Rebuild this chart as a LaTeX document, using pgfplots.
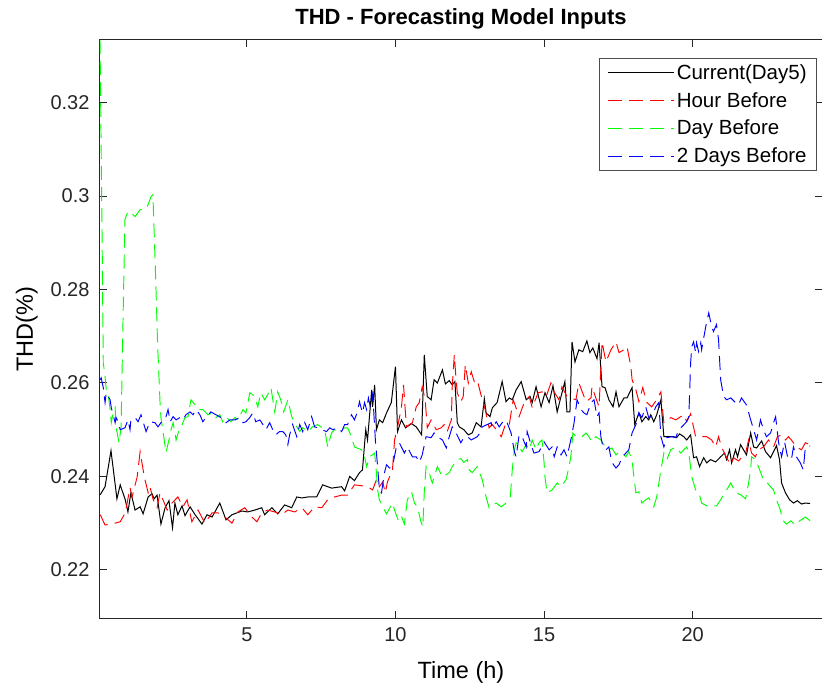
\documentclass[border=0pt]{standalone}
\usepackage{pgfplots}
\pgfplotsset{compat=1.18}
\usepackage{fontspec}
\setmainfont{Liberation Sans}
\begin{document}
\begin{tikzpicture}
\begin{axis}[
  scale only axis, width=722pt, height=578pt,
  xmin=0.06, xmax=24.35, ymin=0.2097, ymax=0.3334,
  axis line style={line width=1pt, color=black!85},
  xtick={5,10,15,20}, xticklabels={5,10,15,20},
  ytick={0.22,0.24,0.26,0.28,0.3,0.32}, yticklabels={0.22,0.24,0.26,0.28,0.3,0.32},
  tick align=inside, major tick length=7pt,
  tick style={line width=1pt, color=black!85},
  ticklabel style={font=\fontsize{20}{24}\selectfont, text=black!85},
  yticklabel style={xshift=-7pt},
  xticklabel style={yshift=-6pt},
  xlabel={Time (h)}, ylabel={THD(\%)},
  label style={font=\fontsize{23.5}{28}\selectfont},
  xlabel style={yshift=-13pt},
  ylabel style={yshift=6pt},
  title={THD - Forecasting Model Inputs},
  title style={font=\bfseries\fontsize{22}{26}\selectfont, yshift=1pt},
  legend style={at={(1,1)}, anchor=north east, xshift=-5pt, yshift=-18pt,
    draw=black!70, line width=0.7pt, font=\fontsize{20.5}{24}\selectfont,
    inner xsep=8pt, inner ysep=4pt, row sep=7.5pt,
    /tikz/every even column/.append style={column sep=3pt}},
  legend cell align=left,
  legend image code/.code={\draw[#1] (0pt,0pt) -- (66pt,0pt);},
]
\addplot[color=black, line width=1pt] coordinates {
(0.07,0.2361)(0.23,0.2378)(0.43,0.2455)(0.63,0.2352)(0.74,0.2382)(0.91,0.235)(1.0,0.2324)(1.1,0.2365)(1.24,0.2328)(1.41,0.2335)(1.51,0.232)(1.68,0.2356)(1.81,0.2363)(1.88,0.2352)(1.98,0.236)(2.11,0.2298)(2.25,0.2333)(2.38,0.2348)(2.5,0.229)(2.58,0.2343)(2.68,0.2318)(2.82,0.2337)(2.92,0.2316)(3.09,0.2335)(3.26,0.2318)(3.49,0.2298)(3.66,0.2318)(3.83,0.2313)(4.09,0.2343)(4.3,0.2307)(4.5,0.2318)(4.83,0.2326)(5.03,0.2324)(5.27,0.2328)(5.5,0.2333)(5.6,0.2318)(5.84,0.2333)(6.04,0.232)(6.27,0.2339)(6.51,0.2333)(6.68,0.2356)(6.85,0.2354)(7.05,0.2356)(7.35,0.2356)(7.55,0.2382)(7.85,0.2375)(8.19,0.2378)(8.29,0.2369)(8.46,0.240)(8.62,0.2391)(8.79,0.2408)(8.89,0.2414)(9.0,0.25)(9.06,0.2478)(9.2,0.2585)(9.23,0.2549)(9.3,0.2596)(9.36,0.25)(9.46,0.2521)(9.57,0.2515)(9.7,0.2536)(9.86,0.2558)(10.0,0.2635)(10.07,0.2496)(10.2,0.2521)(10.34,0.2504)(10.54,0.2513)(10.7,0.2506)(10.88,0.2489)(10.97,0.266)(11.07,0.2571)(11.2,0.2564)(11.3,0.2607)(11.41,0.26)(11.58,0.2628)(11.68,0.2598)(11.81,0.2605)(11.91,0.2596)(12.0,0.2603)(12.08,0.2515)(12.15,0.2506)(12.3,0.25)(12.45,0.2489)(12.58,0.2493)(12.72,0.2515)(12.88,0.2506)(12.99,0.2566)(13.05,0.2536)(13.18,0.2528)(13.26,0.2547)(13.42,0.2558)(13.59,0.2603)(13.72,0.256)(13.83,0.2568)(13.93,0.2564)(14.06,0.2585)(14.23,0.2603)(14.4,0.2564)(14.53,0.2571)(14.6,0.2558)(14.73,0.2592)(14.9,0.2549)(15.03,0.2579)(15.17,0.2558)(15.3,0.2594)(15.44,0.2538)(15.57,0.2571)(15.7,0.2603)(15.77,0.2538)(15.87,0.2538)(15.94,0.2688)(16.04,0.2645)(16.17,0.2671)(16.3,0.2667)(16.44,0.269)(16.54,0.2665)(16.64,0.2675)(16.78,0.2652)(16.85,0.2686)(16.95,0.2592)(17.05,0.259)(17.18,0.2564)(17.32,0.2549)(17.42,0.2581)(17.52,0.2549)(17.69,0.2568)(17.79,0.2568)(17.92,0.2585)(17.96,0.259)(18.05,0.2511)(18.19,0.2536)(18.29,0.2517)(18.42,0.2528)(18.52,0.2521)(18.59,0.2532)(18.69,0.2517)(18.79,0.2532)(18.93,0.2564)(19.03,0.2485)(19.2,0.2485)(19.36,0.2485)(19.46,0.2483)(19.56,0.2491)(19.7,0.2485)(19.8,0.2478)(19.93,0.2489)(20.03,0.244)(20.13,0.2442)(20.23,0.2421)(20.37,0.244)(20.47,0.2429)(20.6,0.2436)(20.77,0.2431)(20.94,0.2442)(21.07,0.245)(21.14,0.2436)(21.24,0.2457)(21.31,0.2429)(21.44,0.2457)(21.51,0.2442)(21.61,0.2468)(21.71,0.2457)(21.81,0.2446)(21.95,0.2493)(22.05,0.2463)(22.15,0.2461)(22.32,0.2476)(22.45,0.2453)(22.62,0.244)(22.75,0.2457)(22.82,0.2466)(22.92,0.2436)(22.99,0.2386)(23.12,0.2365)(23.26,0.235)(23.39,0.2343)(23.52,0.2348)(23.66,0.2341)(23.79,0.2343)(23.95,0.2342)
};
\addlegendentry{Current(Day5)}
\addplot[color=red, line width=0.95pt, dash pattern=on 14pt off 7pt] coordinates {
(0.07,0.2318)(0.23,0.2296)(0.4,0.2298)(0.57,0.2300)(0.74,0.2303)(0.91,0.2322)(1.07,0.2376)(1.14,0.2356)(1.31,0.2399)(1.41,0.2453)(1.55,0.2399)(1.68,0.2365)(1.74,0.2378)(1.85,0.235)(1.98,0.2333)(2.08,0.2365)(2.18,0.235)(2.32,0.2328)(2.48,0.2343)(2.68,0.2356)(2.85,0.2335)(2.99,0.235)(3.15,0.2303)(3.36,0.2328)(3.59,0.23)(3.83,0.2322)(4.03,0.2322)(4.26,0.2313)(4.5,0.23)(4.7,0.2324)(4.93,0.2333)(5.17,0.2313)(5.34,0.2303)(5.5,0.2322)(5.7,0.2328)(5.94,0.2324)(6.17,0.2318)(6.38,0.2328)(6.61,0.2324)(6.85,0.2333)(7.05,0.2318)(7.28,0.2335)(7.52,0.2333)(7.72,0.235)(7.95,0.2356)(8.19,0.236)(8.39,0.236)(8.62,0.2382)(8.86,0.238)(9.06,0.2378)(9.23,0.2371)(9.36,0.2393)(9.46,0.2378)(9.57,0.2388)(9.66,0.2365)(9.73,0.2388)(9.9,0.2414)(9.97,0.2478)(10.07,0.2506)(10.2,0.2547)(10.27,0.2596)(10.37,0.2506)(10.47,0.2511)(10.57,0.2515)(10.7,0.2549)(10.8,0.2558)(10.9,0.2592)(11.0,0.2564)(11.07,0.2504)(11.2,0.2521)(11.37,0.25)(11.54,0.2504)(11.64,0.2511)(11.74,0.2496)(11.88,0.2521)(11.91,0.2592)(11.98,0.266)(12.04,0.2607)(12.08,0.2579)(12.2,0.256)(12.28,0.2571)(12.35,0.2639)(12.45,0.26)(12.55,0.2624)(12.65,0.2603)(12.75,0.2607)(12.92,0.2564)(13.02,0.2543)(13.15,0.2504)(13.26,0.2511)(13.39,0.25)(13.56,0.2485)(13.72,0.2515)(13.83,0.2511)(13.96,0.2564)(14.16,0.2528)(14.33,0.2558)(14.5,0.2571)(14.6,0.2547)(14.8,0.2579)(14.93,0.2581)(15.07,0.2571)(15.23,0.26)(15.34,0.2581)(15.5,0.2564)(15.6,0.2592)(15.77,0.2571)(16.07,0.2564)(16.17,0.26)(16.41,0.256)(16.58,0.2568)(16.61,0.2592)(16.74,0.2568)(16.85,0.2549)(16.95,0.2688)(17.08,0.2645)(17.25,0.2671)(17.42,0.2688)(17.52,0.2665)(17.69,0.2671)(17.79,0.2678)(17.92,0.2635)(17.96,0.2607)(18.09,0.2585)(18.19,0.256)(18.32,0.259)(18.46,0.2558)(18.62,0.2549)(18.79,0.2564)(18.93,0.2581)(19.03,0.2515)(19.13,0.2517)(19.26,0.2526)(19.43,0.2521)(19.6,0.2528)(19.7,0.2532)(19.8,0.2517)(19.93,0.2534)(20.1,0.2485)(20.3,0.2485)(20.47,0.2485)(20.64,0.2478)(20.77,0.2463)(20.87,0.2485)(20.97,0.2463)(21.14,0.244)(21.28,0.2425)(21.38,0.244)(21.54,0.2433)(21.64,0.244)(21.78,0.245)(21.88,0.2478)(21.98,0.245)(22.11,0.2442)(22.21,0.2457)(22.38,0.2463)(22.55,0.2478)(22.72,0.2463)(22.85,0.2485)(22.99,0.2489)(23.12,0.2478)(23.22,0.2485)(23.32,0.2478)(23.49,0.2463)(23.66,0.2457)(23.79,0.2472)(23.95,0.2468)
};
\addlegendentry{Hour Before}
\addplot[color=green, line width=0.95pt, dash pattern=on 14pt off 7pt] coordinates {
(0.06,0.3334)(0.1,0.31)(0.14,0.285)(0.17,0.2643)(0.22,0.262)(0.28,0.2579)(0.34,0.2575)(0.4,0.2543)(0.44,0.2515)(0.5,0.2536)(0.57,0.2547)(0.6,0.2506)(0.7,0.2472)(0.77,0.2506)(0.83,0.272)(0.9,0.295)(1.0,0.2967)(1.1,0.2964)(1.24,0.2956)(1.41,0.2971)(1.58,0.2971)(1.68,0.2982)(1.78,0.2999)(1.84,0.3003)(1.92,0.285)(2.0,0.268)(2.08,0.2558)(2.11,0.2526)(2.21,0.2483)(2.28,0.2451)(2.38,0.2478)(2.45,0.25)(2.52,0.2515)(2.62,0.2478)(2.72,0.25)(2.79,0.2506)(2.92,0.2526)(3.02,0.2528)(3.12,0.2564)(3.26,0.2553)(3.36,0.2543)(3.52,0.2543)(3.69,0.2532)(3.86,0.2536)(3.96,0.2526)(4.09,0.2532)(4.19,0.2517)(4.3,0.2528)(4.46,0.2517)(4.6,0.2526)(4.7,0.2521)(4.87,0.2543)(4.97,0.2536)(5.1,0.2579)(5.2,0.2575)(5.27,0.2568)(5.37,0.2549)(5.47,0.2579)(5.6,0.2564)(5.7,0.2575)(5.81,0.259)(5.94,0.2538)(6.04,0.2581)(6.14,0.2564)(6.24,0.2538)(6.38,0.2564)(6.51,0.2528)(6.68,0.2506)(6.78,0.2496)(6.88,0.2504)(7.05,0.2496)(7.21,0.2506)(7.38,0.2511)(7.62,0.25)(7.72,0.2463)(7.85,0.2493)(7.95,0.25)(8.12,0.2496)(8.29,0.2504)(8.39,0.2504)(8.52,0.2485)(8.62,0.2463)(8.86,0.2457)(8.96,0.2442)(9.03,0.2421)(9.13,0.2442)(9.3,0.245)(9.36,0.2408)(9.4,0.2371)(9.46,0.235)(9.57,0.2335)(9.7,0.232)(9.9,0.2343)(9.97,0.2328)(10.1,0.2305)(10.2,0.2315)(10.3,0.2298)(10.4,0.235)(10.54,0.2367)(10.64,0.2343)(10.74,0.2335)(10.85,0.2305)(10.92,0.2292)(10.97,0.2367)(11.03,0.2421)(11.14,0.2408)(11.2,0.2393)(11.24,0.2386)(11.41,0.2421)(11.58,0.2399)(11.81,0.2408)(11.91,0.2421)(12.08,0.2436)(12.2,0.2438)(12.3,0.243)(12.42,0.2436)(12.48,0.2414)(12.58,0.2408)(12.75,0.2421)(12.92,0.2393)(13.05,0.2356)(13.15,0.2333)(13.26,0.2339)(13.39,0.2343)(13.56,0.2335)(13.72,0.2343)(13.86,0.2354)(13.93,0.2414)(14.0,0.2457)(14.06,0.2472)(14.16,0.2463)(14.26,0.2453)(14.4,0.2468)(14.5,0.2457)(14.6,0.2478)(14.73,0.2457)(14.83,0.2472)(14.93,0.2478)(15.0,0.2429)(15.03,0.2399)(15.1,0.2365)(15.27,0.2371)(15.44,0.2386)(15.57,0.2378)(15.74,0.2393)(15.84,0.2421)(15.9,0.2442)(15.97,0.2493)(16.07,0.2485)(16.28,0.2485)(16.41,0.2493)(16.51,0.2485)(16.61,0.2474)(16.74,0.2485)(16.91,0.2478)(17.08,0.2461)(17.18,0.2457)(17.28,0.2461)(17.42,0.2446)(17.52,0.2453)(17.62,0.245)(17.75,0.2442)(17.85,0.2453)(17.96,0.2436)(18.02,0.2399)(18.09,0.2365)(18.19,0.2367)(18.29,0.2343)(18.42,0.235)(18.52,0.2354)(18.69,0.2335)(18.79,0.2356)(18.93,0.2414)(19.03,0.245)(19.13,0.2436)(19.26,0.2457)(19.43,0.2463)(19.6,0.245)(19.7,0.2457)(19.8,0.2463)(19.87,0.245)(19.97,0.2399)(20.1,0.2371)(20.2,0.2367)(20.3,0.2343)(20.47,0.2337)(20.64,0.2337)(20.8,0.2337)(20.94,0.235)(21.04,0.2361)(21.14,0.2371)(21.28,0.2386)(21.44,0.2365)(21.61,0.2361)(21.78,0.2352)(21.88,0.2386)(21.95,0.2414)(21.98,0.2442)(22.11,0.2436)(22.21,0.2421)(22.38,0.2393)(22.48,0.2388)(22.62,0.2378)(22.72,0.2371)(22.82,0.235)(22.95,0.2328)(23.02,0.2307)(23.15,0.2298)(23.3,0.2305)(23.45,0.2296)(23.6,0.2305)(23.79,0.2313)(23.95,0.2305)
};
\addlegendentry{Day Before}
\addplot[color=blue, line width=0.95pt, dash pattern=on 14pt off 7pt] coordinates {
(0.07,0.2607)(0.1,0.2611)(0.17,0.259)(0.23,0.2558)(0.27,0.2579)(0.4,0.2564)(0.44,0.2547)(0.5,0.2532)(0.57,0.2515)(0.6,0.2526)(0.67,0.2517)(0.74,0.25)(0.9,0.2504)(1.0,0.2521)(1.07,0.25)(1.1,0.2521)(1.24,0.2526)(1.34,0.2517)(1.44,0.2532)(1.51,0.2517)(1.61,0.2496)(1.74,0.2517)(1.91,0.2515)(2.01,0.2506)(2.11,0.2515)(2.25,0.2521)(2.35,0.2543)(2.42,0.2517)(2.52,0.2528)(2.62,0.2521)(2.75,0.2526)(2.85,0.2521)(2.95,0.2532)(3.09,0.2538)(3.19,0.2532)(3.29,0.2543)(3.42,0.2532)(3.52,0.2517)(3.62,0.2526)(3.79,0.2538)(3.96,0.2532)(4.13,0.2526)(4.3,0.2515)(4.43,0.2521)(4.6,0.2521)(4.77,0.2526)(4.87,0.2515)(4.97,0.2517)(5.1,0.2526)(5.2,0.2536)(5.3,0.2517)(5.44,0.2521)(5.54,0.2511)(5.64,0.25)(5.77,0.2515)(5.87,0.25)(5.97,0.2489)(6.1,0.2496)(6.21,0.2496)(6.31,0.2489)(6.38,0.2468)(6.44,0.2489)(6.54,0.2511)(6.68,0.2485)(6.78,0.2511)(6.88,0.2496)(6.95,0.2515)(7.05,0.25)(7.18,0.2528)(7.28,0.2506)(7.38,0.2504)(7.52,0.25)(7.68,0.2496)(7.79,0.2504)(7.89,0.25)(8.05,0.2504)(8.19,0.2496)(8.29,0.2511)(8.39,0.2511)(8.52,0.2532)(8.62,0.2521)(8.72,0.2538)(8.79,0.256)(8.89,0.2536)(8.96,0.2558)(9.03,0.2543)(9.09,0.2568)(9.16,0.2547)(9.23,0.2575)(9.26,0.2549)(9.33,0.2472)(9.4,0.2421)(9.46,0.2371)(9.53,0.2365)(9.63,0.2408)(9.7,0.2425)(9.8,0.2418)(9.9,0.2421)(10.03,0.2463)(10.13,0.2472)(10.3,0.245)(10.4,0.2463)(10.57,0.2442)(10.7,0.2442)(10.8,0.243)(10.9,0.2446)(11.03,0.2485)(11.2,0.2483)(11.3,0.2493)(11.41,0.2485)(11.58,0.2478)(11.71,0.2461)(11.81,0.2485)(11.91,0.2506)(12.04,0.2493)(12.2,0.2472)(12.3,0.2483)(12.42,0.2485)(12.55,0.2478)(12.75,0.2485)(12.88,0.2496)(12.92,0.2506)(13.22,0.2515)(13.26,0.2504)(13.39,0.2517)(13.49,0.2506)(13.59,0.2515)(13.72,0.2521)(13.89,0.2493)(14.0,0.2453)(14.06,0.2442)(14.16,0.2489)(14.26,0.2485)(14.4,0.2463)(14.43,0.2496)(14.56,0.2468)(14.66,0.245)(14.83,0.2453)(15.0,0.2474)(15.17,0.2457)(15.27,0.2463)(15.34,0.2442)(15.44,0.2463)(15.57,0.2446)(15.67,0.2457)(15.77,0.2442)(15.9,0.2478)(16.01,0.2515)(16.11,0.2564)(16.24,0.2543)(16.34,0.2536)(16.44,0.2532)(16.58,0.2558)(16.68,0.2564)(16.78,0.2528)(16.85,0.2536)(16.91,0.2485)(16.98,0.2463)(17.08,0.2457)(17.18,0.2463)(17.28,0.243)(17.42,0.2418)(17.52,0.2425)(17.62,0.244)(17.75,0.245)(17.85,0.2457)(17.96,0.2493)(18.09,0.2511)(18.19,0.2536)(18.29,0.2526)(18.42,0.2549)(18.52,0.2526)(18.62,0.2528)(18.76,0.2549)(18.86,0.2558)(18.93,0.2485)(19.03,0.2463)(19.13,0.2483)(19.3,0.2485)(19.43,0.2483)(19.53,0.25)(19.63,0.2506)(19.77,0.2515)(19.87,0.2528)(19.9,0.2585)(19.93,0.2643)(19.97,0.2678)(20.03,0.2688)(20.1,0.2665)(20.13,0.2686)(20.2,0.2667)(20.27,0.2686)(20.3,0.2671)(20.4,0.2707)(20.47,0.2731)(20.54,0.275)(20.64,0.272)(20.7,0.271)(20.8,0.2725)(20.87,0.2693)(20.94,0.2607)(21.04,0.2571)(21.14,0.2564)(21.28,0.2568)(21.44,0.2558)(21.54,0.2553)(21.64,0.2568)(21.81,0.2553)(21.95,0.2521)(22.05,0.25)(22.15,0.2478)(22.28,0.2521)(22.38,0.25)(22.48,0.2485)(22.62,0.2493)(22.72,0.2515)(22.79,0.2528)(22.89,0.2472)(22.99,0.2442)(23.09,0.2474)(23.19,0.2442)(23.32,0.2436)(23.39,0.2463)(23.49,0.2442)(23.62,0.2429)(23.72,0.2414)(23.79,0.2463)(23.95,0.2465)
};
\addlegendentry{2 Days Before}
\end{axis}
\pgfresetboundingbox
\path[use as bounding box] ([xshift=-100pt,yshift=-71pt]current axis.south west) rectangle ([yshift=40pt]current axis.north east);
\end{tikzpicture}
\end{document}
